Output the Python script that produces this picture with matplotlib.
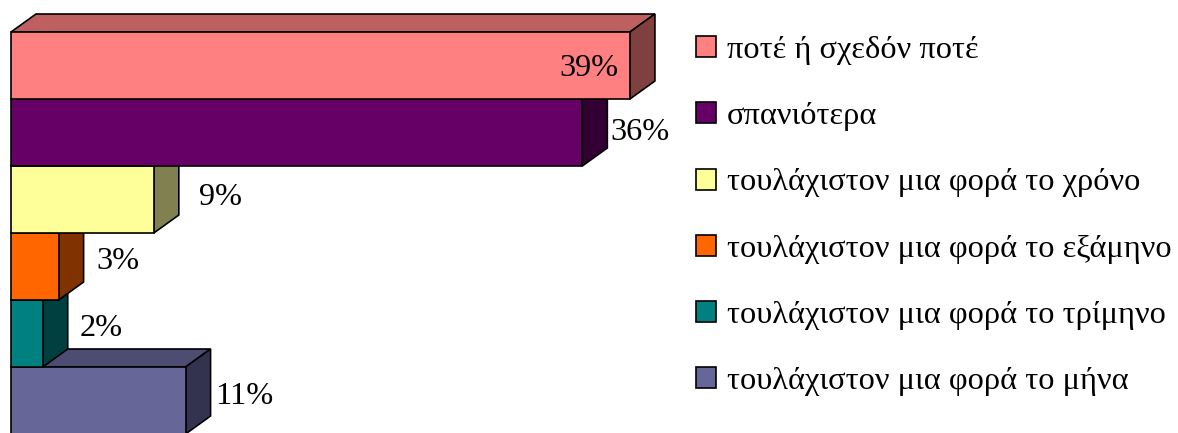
import matplotlib
matplotlib.use('Agg')
import matplotlib.pyplot as plt
from matplotlib.patches import Polygon, Rectangle

labels = ['ποτέ ή σχεδόν ποτέ', 'σπανιότερα', 'τουλάχιστον μια φορά το χρόνο',
          'τουλάχιστον μια φορά το εξάμηνο', 'τουλάχιστον μια φορά το τρίμηνο',
          'τουλάχιστον μια φορά το μήνα']
values = [39, 36, 9, 3, 2, 11]
colors = ['#FF8080', '#660066', '#FFFF99', '#FF6600', '#008080', '#666699']
tops = ['#BF6060', '#4D004D', '#BFBF73', '#BF4D00', '#006060', '#4D4D73']
sides = ['#804040', '#330033', '#808050', '#803300', '#004040', '#333350']

# label offsets from the bar end, in pixels
label_dx = [-41, 58, 67, 59, 58, 59]
label_dy = [-3, 0, 2, 5, 5, 4]

PX_X = 15.87  # pixels per percent
PX_Y = 67.0   # pixels per bar
DEPTH_X = 25 / PX_X
DEPTH_Y = 18 / PX_Y

plt.rcParams['font.family'] = ['Liberation Serif', 'DejaVu Serif']

fig = plt.figure(figsize=(11.78, 4.33), dpi=100)
ax = fig.add_axes([0, 0, 1, 1])
ax.set_xlim(-11 / PX_X, (1178 - 11) / PX_X)
ax.set_ylim((433 - 32) / PX_Y, -32 / PX_Y)
ax.axis('off')

# bottom bar first so the upper fronts cover the lower top faces
for i in range(len(values) - 1, -1, -1):
    v = values[i]
    ax.add_patch(Polygon([(0, i), (DEPTH_X, i - DEPTH_Y), (v + DEPTH_X, i - DEPTH_Y), (v, i)],
                         closed=True, fc=tops[i], ec='black', lw=1.2))
    ax.add_patch(Polygon([(v, i), (v + DEPTH_X, i - DEPTH_Y), (v + DEPTH_X, i + 1 - DEPTH_Y), (v, i + 1)],
                         closed=True, fc=sides[i], ec='black', lw=1.2))
    ax.add_patch(Rectangle((0, i), v, 1, fc=colors[i], ec='black', lw=1.2))

for i, v in enumerate(values):
    ax.annotate(f'{v}%', (v, i + 0.5), xytext=(label_dx[i] * 0.72, label_dy[i] * 0.72),
                textcoords='offset points', ha='center', va='center', fontsize=23.3, color='black')

handles = [Rectangle((0, 0), 1, 1, fc=c, ec='black', lw=1.2) for c in colors]
ax.legend(handles, labels, loc='upper left', bbox_to_anchor=(696 / 1178, 1 - 36 / 433),
          frameon=False, fontsize=23.3, borderpad=0, borderaxespad=0,
          handlelength=0.62, handleheight=0.62, handletextpad=0.34, labelspacing=1.15)

fig.savefig('out.png', dpi=100)
